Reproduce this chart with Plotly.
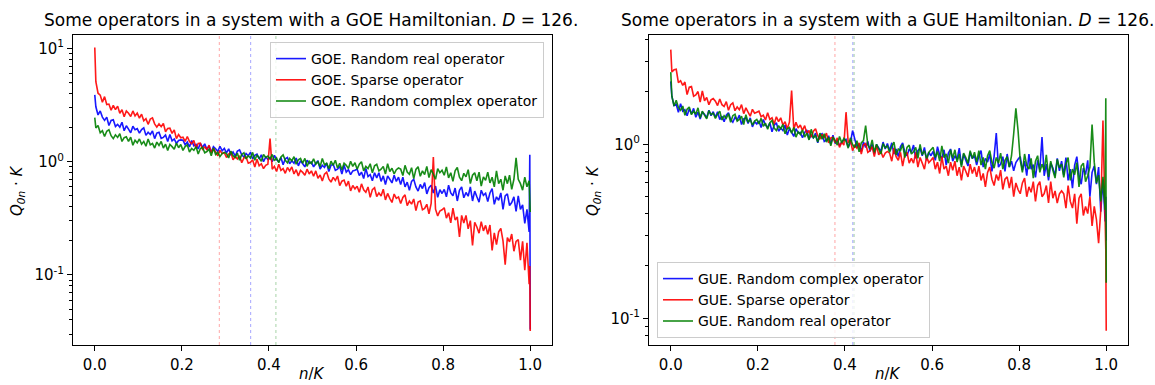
import math
import plotly.graph_objects as go

# ---------------- data ----------------
# x = n/K.  Each series: two head samples, ten rows of 20 samples (row k spans
# n/K = 0.1k+0.0025 ... 0.1k+0.0975 in steps of 0.005), two tail samples.
HEAD_X = [0.0, 0.001]
TAIL_X = [0.999, 1.0]
ROW_START = 0.0025
ROW_WIDTH = 0.1
STEP = 0.005

# ---- GOE Hamiltonian ----
goe_real_head = [3.9, 3.3]
goe_real_rows = [
    [3.06, 2.59, 2.81, 2.48, 2.32, 2.48, 2.09, 2.32, 2.35, 2.05, 2.14, 2.02, 2.23, 1.88, 2.08, 1.94, 1.8, 2.06, 1.92, 1.96],
    [1.79, 1.92, 1.99, 1.71, 1.82, 1.74, 1.87, 1.6, 1.79, 1.82, 1.61, 1.64, 1.72, 1.51, 1.74, 1.53, 1.59, 1.45, 1.54, 1.56],
    [1.55, 1.41, 1.49, 1.35, 1.54, 1.38, 1.42, 1.3, 1.45, 1.34, 1.44, 1.28, 1.38, 1.21, 1.36, 1.3, 1.23, 1.37, 1.25, 1.31],
    [1.2, 1.3, 1.16, 1.22, 1.12, 1.24, 1.27, 1.15, 1.1, 1.18, 1.13, 1.21, 1.06, 1.14, 1.17, 1.06, 1.15, 1.0, 1.1, 1.05],
    [1.09, 1.0, 1.14, 1.04, 1.0, 1.09, 0.94, 1.06, 1.09, 0.96, 1.02, 0.97, 1.08, 0.92, 1.02, 0.96, 0.9, 1.03, 0.965, 0.99],
    [0.9, 0.97, 1.02, 0.86, 0.93, 0.89, 0.97, 0.82, 0.93, 0.95, 0.84, 0.86, 0.91, 0.78, 0.93, 0.81, 0.85, 0.77, 0.83, 0.84],
    [0.86, 0.755, 0.81, 0.71, 0.87, 0.74, 0.77, 0.68, 0.8, 0.72, 0.8, 0.67, 0.75, 0.63, 0.75, 0.7, 0.65, 0.76, 0.67, 0.73],
    [0.63, 0.73, 0.6, 0.66, 0.56, 0.67, 0.7, 0.6, 0.55, 0.63, 0.58, 0.655, 0.52, 0.59, 0.62, 0.53, 0.61, 0.485, 0.566, 0.524],
    [0.57, 0.49, 0.62, 0.53, 0.5, 0.585, 0.45, 0.56, 0.6, 0.48, 0.535, 0.496, 0.6, 0.45, 0.55, 0.49, 0.44, 0.56, 0.505, 0.527],
    [0.445, 0.53, 0.58, 0.42, 0.49, 0.456, 0.53, 0.38, 0.5, 0.52, 0.41, 0.436, 0.49, 0.365, 0.5, 0.38, 0.416, 0.285, 0.38, 0.24],
]
goe_real_tail = [1.15, 0.033]

goe_sparse_head = [10.2, 6.5]
goe_sparse_rows = [
    [5.09, 4.03, 3.88, 3.35, 3.76, 3.2, 3.23, 2.85, 3.15, 2.89, 3.1, 2.68, 2.88, 2.5, 2.81, 2.68, 2.51, 2.81, 2.54, 2.69],
    [2.43, 2.63, 2.3, 2.4, 2.14, 2.38, 2.44, 2.16, 2.02, 2.16, 2.04, 2.18, 1.84, 1.97, 1.98, 1.78, 1.91, 1.6, 1.74, 1.63],
    [1.65, 1.51, 1.67, 1.51, 1.44, 1.54, 1.32, 1.45, 1.46, 1.29, 1.35, 1.28, 1.4, 1.2, 1.31, 1.22, 1.13, 1.26, 1.18, 1.2],
    [1.09, 1.17, 1.21, 1.04, 1.11, 1.06, 1.13, 0.98, 1.08, 1.1, 0.97, 0.99, 1.04, 0.9, 1.05, 0.92, 0.96, 0.87, 0.93, 0.95],
    [1.6, 0.86, 0.91, 0.82, 0.95, 0.84, 0.87, 0.79, 0.89, 0.83, 0.9, 0.78, 0.85, 0.75, 0.84, 0.805, 0.76, 0.86, 0.78, 0.83],
    [0.744, 0.83, 0.714, 0.763, 0.675, 0.777, 0.81, 0.706, 0.66, 0.728, 0.683, 0.748, 0.616, 0.673, 0.689, 0.608, 0.674, 0.552, 0.616, 0.576],
    [0.608, 0.538, 0.638, 0.564, 0.537, 0.599, 0.484, 0.567, 0.589, 0.493, 0.53, 0.499, 0.571, 0.46, 0.525, 0.475, 0.437, 0.518, 0.475, 0.489],
    [0.428, 0.483, 0.51, 0.41, 0.449, 0.422, 0.469, 0.37, 0.44, 0.451, 0.376, 0.387, 0.421, 0.347, 0.429, 1.1, 0.381, 0.332, 0.367, 0.376],
    [0.392, 0.317, 0.354, 0.288, 0.389, 0.306, 0.326, 0.217, 0.336, 0.288, 0.336, 0.255, 0.302, 0.182, 0.292, 0.265, 0.234, 0.296, 0.245, 0.274],
    [0.228, 0.276, 0.165, 0.235, 0.185, 0.24, 0.258, 0.2, 0.123, 0.214, 0.196, 0.23, 0.162, 0.198, 0.205, 0.135, 0.198, 0.11, 0.192, 0.083],
]
goe_sparse_tail = [0.12, 0.032]

goe_complex_head = [2.45, 2.25]
goe_complex_rows = [
    [1.99, 2.09, 1.8, 1.88, 1.67, 1.86, 1.92, 1.7, 1.6, 1.73, 1.64, 1.77, 1.51, 1.63, 1.66, 1.51, 1.65, 1.4, 1.55, 1.47],
    [1.59, 1.43, 1.51, 1.37, 1.59, 1.41, 1.45, 1.32, 1.49, 1.39, 1.51, 1.32, 1.43, 1.26, 1.42, 1.36, 1.29, 1.46, 1.33, 1.42],
    [1.26, 1.36, 1.41, 1.22, 1.31, 1.26, 1.36, 1.17, 1.31, 1.34, 1.2, 1.23, 1.29, 1.13, 1.32, 1.16, 1.21, 1.11, 1.18, 1.21],
    [1.18, 1.08, 1.24, 1.13, 1.09, 1.19, 1.03, 1.16, 1.2, 1.06, 1.13, 1.08, 1.21, 1.03, 1.15, 1.08, 1.01, 1.16, 1.09, 1.12],
    [1.05, 1.16, 1.02, 1.08, 0.98, 1.1, 1.15, 1.03, 0.98, 1.07, 1.02, 1.11, 0.95, 1.04, 1.07, 0.97, 1.07, 0.91, 1.01, 0.965],
    [1.06, 0.95, 1.0, 0.9, 1.07, 0.94, 0.97, 0.87, 1.01, 0.93, 1.03, 0.88, 0.97, 0.85, 0.97, 0.93, 0.87, 1.01, 0.91, 0.98],
    [0.86, 0.95, 1.0, 0.83, 0.91, 0.87, 0.96, 0.8, 0.92, 0.95, 0.83, 0.86, 0.91, 0.78, 0.96, 0.82, 0.875, 0.78, 0.85, 0.88],
    [0.86, 0.755, 0.93, 0.81, 0.775, 0.885, 0.71, 0.855, 0.905, 0.745, 0.83, 0.77, 0.91, 0.725, 0.85, 0.775, 0.7, 0.87, 0.8, 0.84],
    [0.76, 0.9, 0.72, 0.8, 0.67, 0.83, 0.89, 0.73, 0.68, 0.79, 0.735, 0.85, 0.64, 0.76, 0.8, 0.68, 0.81, 0.61, 0.735, 0.685],
    [0.81, 0.65, 0.73, 0.6, 0.83, 0.64, 0.7, 0.56, 0.75, 0.64, 0.76, 0.57, 0.7, 1.08, 0.7, 0.64, 0.56, 0.73, 0.6, 0.68],
]
goe_complex_tail = [0.5, 0.36]

goe_marker_x = [0.286, 0.358, 0.416]   # red, blue, green dotted lines

# ---- GUE Hamiltonian ----
gue_complex_head = [2.3, 1.95]
gue_complex_rows = [
    [1.89, 1.67, 1.7, 1.53, 1.71, 1.55, 1.58, 1.46, 1.6, 1.5, 1.61, 1.43, 1.53, 1.4, 1.53, 1.49, 1.42, 1.57, 1.46, 1.54],
    [1.43, 1.54, 1.39, 1.45, 1.35, 1.47, 1.52, 1.39, 1.34, 1.43, 1.38, 1.47, 1.3, 1.4, 1.42, 1.32, 1.42, 1.26, 1.35, 1.31],
    [1.36, 1.25, 1.39, 1.29, 1.25, 1.33, 1.18, 1.29, 1.33, 1.19, 1.24, 1.2, 1.29, 1.13, 1.23, 1.17, 1.11, 1.23, 1.16, 1.17],
    [1.09, 1.17, 1.21, 1.07, 1.13, 1.09, 1.16, 1.02, 1.13, 1.15, 1.04, 1.06, 1.12, 1.0, 1.13, 1.01, 1.06, 0.98, 1.03, 1.06],
    [1.07, 0.965, 1.02, 1.2, 1.08, 0.96, 1.0, 0.91, 1.03, 0.96, 1.04, 0.91, 1.0, 0.88, 1.0, 0.96, 0.91, 1.03, 0.94, 1.01],
    [0.92, 1.02, 0.88, 0.94, 0.85, 0.97, 1.02, 0.9, 0.86, 0.94, 0.9, 0.99, 0.83, 0.92, 0.95, 0.86, 0.96, 0.81, 0.9, 0.86],
    [0.91, 0.81, 0.97, 0.87, 0.83, 0.93, 0.76, 0.89, 0.94, 0.8, 0.86, 0.82, 0.95, 0.76, 0.88, 0.81, 0.75, 0.9, 0.83, 0.86],
    [0.76, 0.86, 0.92, 0.74, 0.83, 0.79, 0.88, 0.7, 0.85, 1.16, 0.74, 0.77, 0.85, 0.7, 0.88, 0.74, 0.8, 0.705, 0.785, 0.82],
    [0.85, 0.71, 0.8, 0.66, 0.88, 0.72, 0.765, 0.645, 0.81, 0.715, 1.1, 0.66, 0.77, 0.62, 0.78, 0.73, 0.66, 0.83, 0.705, 0.8],
    [0.665, 0.84, 0.62, 0.72, 0.56, 0.76, 0.85, 0.66, 0.59, 0.73, 0.67, 0.81, 0.5, 0.69, 0.75, 0.59, 0.74, 0.41, 0.63, 0.36],
]
gue_complex_tail = [0.5, 0.28]

gue_sparse_head = [3.5, 2.9]
gue_sparse_rows = [
    [2.61, 2.68, 2.7, 2.26, 2.32, 2.18, 2.28, 1.93, 2.13, 2.15, 1.89, 1.92, 2.01, 1.75, 2.03, 1.78, 1.86, 1.69, 1.8, 1.83],
    [1.77, 1.67, 1.82, 1.69, 1.65, 1.76, 1.57, 1.69, 1.73, 1.56, 1.64, 1.58, 1.69, 1.5, 1.62, 1.53, 1.45, 1.59, 1.51, 1.53],
    [1.55, 1.44, 1.47, 1.38, 1.52, 1.39, 1.42, 1.31, 1.44, 1.35, 1.42, 1.29, 1.35, 1.23, 1.34, 2.04, 1.22, 1.34, 1.24, 1.29],
    [1.2, 1.28, 1.15, 1.2, 1.1, 1.19, 1.23, 1.12, 1.07, 1.14, 1.09, 1.16, 1.02, 1.09, 1.1, 1.02, 1.09, 0.96, 1.03, 0.99],
    [1.53, 1.02, 1.06, 0.92, 0.985, 0.95, 1.02, 0.88, 0.99, 1.01, 0.9, 0.92, 0.97, 0.85, 0.99, 0.87, 0.91, 0.84, 0.89, 0.91],
    [0.89, 0.8, 0.95, 0.85, 0.81, 0.9, 0.75, 0.87, 0.9, 0.78, 0.83, 0.78, 0.9, 0.74, 0.84, 0.78, 0.72, 0.85, 0.785, 0.81],
    [0.84, 0.72, 0.79, 0.68, 0.85, 0.72, 0.75, 0.66, 0.79, 0.71, 0.8, 0.66, 0.74, 0.62, 0.75, 0.7, 0.65, 0.77, 0.68, 0.74],
    [0.65, 0.75, 0.62, 0.68, 0.57, 0.69, 0.74, 0.63, 0.58, 0.67, 0.62, 0.71, 0.55, 0.63, 0.65, 0.56, 0.65, 0.5, 0.6, 0.55],
    [0.52, 0.6, 0.64, 0.5, 0.57, 0.53, 0.61, 0.47, 0.58, 0.61, 0.5, 0.52, 0.58, 0.46, 0.61, 0.49, 0.54, 0.46, 0.52, 0.54],
    [0.52, 0.43, 0.58, 0.47, 0.43, 0.52, 0.35, 0.49, 0.52, 0.39, 0.44, 0.4, 0.5, 0.34, 0.44, 0.37, 0.27, 0.42, 1.37, 0.37],
]
gue_sparse_tail = [0.25, 0.085]

gue_real_head = [2.6, 2.1]
gue_real_rows = [
    [1.89, 1.66, 1.79, 1.63, 1.57, 1.66, 1.47, 1.59, 1.64, 1.48, 1.55, 1.49, 1.62, 1.42, 1.55, 1.47, 1.4, 1.56, 1.48, 1.51],
    [1.41, 1.49, 1.55, 1.38, 1.46, 1.41, 1.5, 1.34, 1.46, 1.49, 1.36, 1.39, 1.45, 1.3, 1.48, 1.34, 1.39, 1.29, 1.36, 1.39],
    [1.31, 1.41, 1.27, 1.32, 1.22, 1.33, 1.37, 1.24, 1.2, 1.28, 1.23, 1.3, 1.15, 1.23, 1.25, 1.16, 1.25, 1.1, 1.18, 1.14],
    [1.21, 1.1, 1.16, 1.06, 1.22, 1.09, 1.12, 1.03, 1.16, 1.07, 1.15, 1.03, 1.1, 0.98, 1.1, 1.05, 0.99, 1.11, 1.02, 1.08],
    [1.04, 0.95, 1.09, 0.995, 0.96, 1.05, 0.905, 1.02, 1.05, 1.28, 0.99, 0.945, 1.06, 0.9, 1.0, 0.94, 0.88, 1.01, 0.955, 0.98],
    [0.9, 0.97, 1.03, 0.87, 0.94, 0.92, 1.0, 0.84, 0.96, 0.99, 0.88, 0.905, 0.96, 0.83, 1.0, 0.87, 0.92, 0.83, 0.9, 0.93],
    [0.96, 0.84, 0.91, 0.8, 0.98, 0.84, 0.88, 0.78, 0.93, 0.83, 0.93, 0.79, 0.88, 0.74, 0.89, 0.84, 0.78, 0.92, 0.83, 0.9],
    [0.79, 0.92, 0.76, 0.84, 0.72, 0.86, 0.92, 0.79, 0.73, 0.84, 0.78, 0.89, 0.72, 0.81, 0.85, 0.74, 0.86, 1.15, 1.61, 1.2],
    [0.81, 0.69, 0.88, 0.755, 0.72, 0.83, 0.64, 0.8, 0.86, 0.69, 0.77, 0.71, 0.87, 0.65, 0.8, 0.71, 0.64, 0.82, 0.735, 0.77],
    [0.645, 0.77, 0.84, 0.62, 0.72, 0.67, 0.785, 0.57, 0.75, 0.78, 0.61, 0.66, 0.74, 1.3, 0.79, 0.6, 0.665, 0.47, 0.65, 0.42],
]
gue_real_tail = [1.84, 0.16]

gue_marker_x = [0.377, 0.418, 0.421]   # red, blue, green dotted lines

# ---------------- helpers ----------------
def series_xy(head, rows, tail):
    xs, ys = list(HEAD_X), list(head)
    for k, row in enumerate(rows):
        for j, v in enumerate(row):
            xs.append(round(ROW_START + ROW_WIDTH * k + STEP * j, 4))
            ys.append(v)
    xs += TAIL_X
    ys += tail
    return xs, ys

FONT = "DejaVu Sans"
BLUE, RED, GREEN = "#0000ff", "#ff0000", "#008000"
W, H = 1155, 385

def px_x(p):
    return p / W

def px_y(p):
    return 1 - p / H

fig = go.Figure()

left_series = [
    ("GOE. Random real operator", goe_real_head, goe_real_rows, goe_real_tail, BLUE),
    ("GOE. Sparse operator", goe_sparse_head, goe_sparse_rows, goe_sparse_tail, RED),
    ("GOE. Random complex operator", goe_complex_head, goe_complex_rows, goe_complex_tail, GREEN),
]
right_series = [
    ("GUE. Random complex operator", gue_complex_head, gue_complex_rows, gue_complex_tail, BLUE),
    ("GUE. Sparse operator", gue_sparse_head, gue_sparse_rows, gue_sparse_tail, RED),
    ("GUE. Random real operator", gue_real_head, gue_real_rows, gue_real_tail, GREEN),
]

LW = 1.6
for name, hd, rows, tl, col in left_series:
    xs, ys = series_xy(hd, rows, tl)
    fig.add_trace(go.Scatter(x=xs, y=ys, mode="lines", name=name,
                             line=dict(color=col, width=LW), opacity=0.9,
                             xaxis="x", yaxis="y", legend="legend"))
for name, hd, rows, tl, col in right_series:
    xs, ys = series_xy(hd, rows, tl)
    fig.add_trace(go.Scatter(x=xs, y=ys, mode="lines", name=name,
                             line=dict(color=col, width=LW), opacity=0.9,
                             xaxis="x2", yaxis="y2", legend="legend2"))

line_cols = ["rgba(255,0,0,0.35)", "rgba(0,0,255,0.35)", "rgba(0,128,0,0.35)"]
shapes = []
for xv, c in zip(goe_marker_x, line_cols):
    shapes.append(dict(type="line", xref="x", yref="y domain", x0=xv, x1=xv, y0=0, y1=1,
                       line=dict(color=c, width=1, dash="dot"), layer="below"))
for xv, c in zip(gue_marker_x, line_cols):
    shapes.append(dict(type="line", xref="x2", yref="y2 domain", x0=xv, x1=xv, y0=0, y1=1,
                       line=dict(color=c, width=1, dash="dot"), layer="below"))

Y_DOM = [px_y(345), px_y(34.5)]
x_ticks = [0.0, 0.2, 0.4, 0.6, 0.8, 1.0]
x_labels = ["0.0", "0.2", "0.4", "0.6", "0.8", "1.0"]
TICK_FONT = dict(family=FONT, size=15, color="black")

def xaxis(domain, anchor):
    return dict(domain=domain, anchor=anchor, range=[-0.05, 1.05],
                tickvals=x_ticks, ticktext=x_labels, ticks="outside", ticklen=5,
                tickcolor="black", ticklabelstandoff=1,
                showline=True, mirror=True, linecolor="black",
                linewidth=1, showgrid=False, zeroline=False, tickfont=TICK_FONT)

def yaxis(anchor, rng, majors, minors):
    return dict(domain=Y_DOM, anchor=anchor, type="log", range=rng,
                tickvals=majors,
                ticktext=["10<sup>%d</sup>" % round(math.log10(v)) for v in majors],
                ticks="outside", ticklen=5, tickcolor="black",
                minor=dict(tickvals=minors, ticks="outside", ticklen=3, tickcolor="black", showgrid=False),
                showline=True, mirror=True, linecolor="black", linewidth=1,
                showgrid=False, zeroline=False, tickfont=TICK_FONT)

minors_left = [0.03, 0.04, 0.05, 0.06, 0.07, 0.08, 0.09,
               0.2, 0.3, 0.4, 0.5, 0.6, 0.7, 0.8, 0.9,
               2, 3, 4, 5, 6, 7, 8, 9]
minors_right = [0.08, 0.09, 0.2, 0.3, 0.4, 0.5, 0.6, 0.7, 0.8, 0.9, 2, 3, 4]

legend_style = dict(font=dict(family=FONT, size=14, color="black"),
                    bgcolor="rgba(255,255,255,0.8)", bordercolor="#cccccc", borderwidth=1)

ylab = "<i>Q</i><sub><i>0n</i></sub> · <i>K</i>"
LABEL_FONT = dict(family=FONT, size=15, color="black")
TITLE_FONT = dict(family=FONT, size=17, color="black")
annotations = [
    dict(text="Some operators in a system with a GOE Hamiltonian. <i>D</i> = 126.",
         x=px_x(42), y=px_y(20.5), xref="paper", yref="paper", showarrow=False,
         xanchor="left", yanchor="middle", align="left", font=TITLE_FONT),
    dict(text="Some operators in a system with a GUE Hamiltonian. <i>D</i> = 126.",
         x=px_x(619), y=px_y(20.5), xref="paper", yref="paper", showarrow=False,
         xanchor="left", yanchor="middle", align="left", font=TITLE_FONT),
    dict(text=ylab, x=px_x(17), y=px_y(191), xref="paper", yref="paper", showarrow=False,
         textangle=-90, xanchor="center", yanchor="middle", font=LABEL_FONT),
    dict(text=ylab, x=px_x(593), y=px_y(191), xref="paper", yref="paper", showarrow=False,
         textangle=-90, xanchor="center", yanchor="middle", font=LABEL_FONT),
    dict(text="<i>n</i>/<i>K</i>", x=px_x(312), y=0, xref="paper", yref="paper",
         showarrow=False, xanchor="center", yanchor="bottom", font=LABEL_FONT),
    dict(text="<i>n</i>/<i>K</i>", x=px_x(888), y=0, xref="paper", yref="paper",
         showarrow=False, xanchor="center", yanchor="bottom", font=LABEL_FONT),
]

fig.update_layout(
    width=W, height=H, margin=dict(l=0, r=0, t=0, b=0),
    paper_bgcolor="white", plot_bgcolor="white",
    font=dict(family=FONT, size=14, color="black"),
    xaxis=xaxis([px_x(73), px_x(552)], "y"),
    yaxis=yaxis("x", [-1.619, 1.124], [0.1, 1, 10], minors_left),
    xaxis2=xaxis([px_x(649), px_x(1128)], "y2"),
    yaxis2=yaxis("x2", [-1.153, 0.631], [0.1, 1], minors_right),
    legend=dict(x=px_x(544), y=px_y(42), xanchor="right", yanchor="top", **legend_style),
    legend2=dict(x=px_x(657), y=px_y(338), xanchor="left", yanchor="bottom", **legend_style),
    shapes=shapes, annotations=annotations, showlegend=True,
)

fig.write_html("out.html")
